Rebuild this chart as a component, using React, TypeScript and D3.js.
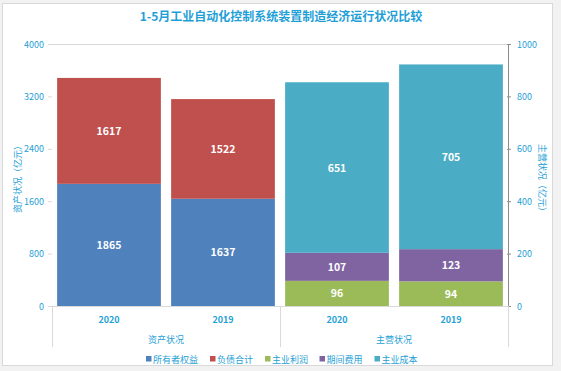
import React from 'react'
import * as d3 from 'd3'

// 图表数据
const groups = ['资产状况', '主营状况']
const years = ['2020', '2019']

const ownerEquity = [1865, 1637] // 所有者权益
const liabilities = [1617, 1522] // 负债合计
const mainProfit = [96, 94] // 主业利润
const periodCost = [107, 123] // 期间费用
const mainCost = [651, 705] // 主业成本

const leftTicks = [0, 800, 1600, 2400, 3200, 4000]
const rightTicks = [0, 200, 400, 600, 800, 1000]

const legendNames = ['所有者权益', '负债合计', '主业利润', '期间费用', '主业成本']
const colors = ['#4F81BD', '#C0504D', '#9BBB59', '#8064A2', '#4BACC6']

const W = 561
const H = 371
const margin = { top: 44, right: 53, bottom: 65, left: 52 }
const textColor = '#1f9fd6'
const font = '"Noto Sans CJK SC", "Noto Sans", sans-serif'

export default function App() {
  const bottom = H - margin.bottom
  const right = W - margin.right

  const keys = groups.flatMap(g => years.map(y => `${g}|${y}`))
  const x = d3.scaleBand<string>()
    .domain(keys)
    .range([margin.left, right])
    .paddingInner(0.09)
    .paddingOuter(0.045)

  const yLeft = d3.scaleLinear().domain([0, 4000]).range([bottom, margin.top])
  const yRight = d3.scaleLinear().domain([0, 1000]).range([bottom, margin.top])

  // 堆叠
  const leftStack = d3.stack<number>()
    .keys(['0', '1'])
    .value((i, k) => (k === '0' ? ownerEquity[i] : liabilities[i]))(years.map((_, i) => i))
  const rightStack = d3.stack<number>()
    .keys(['0', '1', '2'])
    .value((i, k) => (k === '0' ? mainProfit[i] : k === '1' ? periodCost[i] : mainCost[i]))(years.map((_, i) => i))

  const bars: { x: number; y0: number; y1: number; color: string; value: number }[] = []
  leftStack.forEach((layer, li) => {
    layer.forEach((d, i) => {
      bars.push({ x: x(`${groups[0]}|${years[i]}`)!, y0: yLeft(d[0]), y1: yLeft(d[1]), color: colors[li], value: d[1] - d[0] })
    })
  })
  rightStack.forEach((layer, li) => {
    layer.forEach((d, i) => {
      bars.push({ x: x(`${groups[1]}|${years[i]}`)!, y0: yRight(d[0]), y1: yRight(d[1]), color: colors[li + 2], value: d[1] - d[0] })
    })
  })

  const groupEdges = [margin.left, (margin.left + right) / 2, right]
  const legendX = [146, 210, 265, 319.5, 374.5]
  const midY = (margin.top + bottom) / 2 + 2

  return (
    <svg width={W} height={H} style={{ position: 'absolute', left: 0, top: 0, fontFamily: font }}>
      <rect x={0} y={0} width={W} height={H} fill="#f2f2f2" />
      <rect x={2.5} y={3.5} width={550} height={362} fill="#fff" stroke="#d9d9d9" />

      <text x={281} y={21} textAnchor="middle" fontSize={12} fontWeight="bold" fill={textColor}>
        1-5月工业自动化控制系统装置制造经济运行状况比较
      </text>

      {/* 网格线 */}
      <line x1={margin.left} x2={right} y1={yLeft(4000) + 0.5} y2={yLeft(4000) + 0.5} stroke="#d9d9d9" />

      {/* 柱子 */}
      {bars.map((b, i) => (
        <g key={i}>
          <rect x={b.x} y={b.y1} width={x.bandwidth()} height={b.y0 - b.y1} fill={b.color} />
          <text x={b.x + x.bandwidth() / 2} y={(b.y0 + b.y1) / 2 + 4} textAnchor="middle" fontSize={10.5} fontWeight="bold" fill="#fff">
            {b.value}
          </text>
        </g>
      ))}

      {/* 左轴 */}
      {leftTicks.map(t => (
        <g key={t}>
          <line x1={margin.left - 4} x2={margin.left} y1={yLeft(t) + 0.5} y2={yLeft(t) + 0.5} stroke="#d9d9d9" />
          <text x={margin.left - 8} y={yLeft(t) + 3.5} textAnchor="end" fontSize={9} fill={textColor}>{t}</text>
        </g>
      ))}
      <text transform={`translate(21,${midY}) rotate(-90)`} textAnchor="middle" fontSize={9} fill={textColor}>
        资产状况（亿元）
      </text>

      {/* 右轴 */}
      <line x1={right + 0.5} x2={right + 0.5} y1={margin.top} y2={bottom} stroke="#8c8c8c" />
      {rightTicks.map(t => (
        <g key={t}>
          <line x1={right - 1} x2={right + 3} y1={yRight(t) + 0.5} y2={yRight(t) + 0.5} stroke="#8c8c8c" />
          <text x={right + 9} y={yRight(t) + 3.5} fontSize={9} fill={textColor}>{t}</text>
        </g>
      ))}
      <text transform={`translate(539,${midY + 3}) rotate(90)`} textAnchor="middle" fontSize={9} fill={textColor}>
        主营状况（亿元）
      </text>

      {/* 分类轴 */}
      <line x1={margin.left} x2={right} y1={bottom + 0.5} y2={bottom + 0.5} stroke="#d9d9d9" />
      {groupEdges.map((gx, i) => (
        <line key={i} x1={gx + 0.5} x2={gx + 0.5} y1={bottom} y2={bottom + 41} stroke="#d9d9d9" />
      ))}
      {keys.map(k => (
        <text key={k} x={x(k)! + x.bandwidth() / 2} y={bottom + 17} textAnchor="middle" fontSize={9} fontWeight="bold" fill={textColor}>
          {k.split('|')[1]}
        </text>
      ))}
      {groups.map((g, i) => (
        <text key={g} x={(groupEdges[i] + groupEdges[i + 1]) / 2} y={bottom + 37} textAnchor="middle" fontSize={9} fill={textColor}>
          {g}
        </text>
      ))}

      {/* 图例 */}
      {legendNames.map((n, i) => (
        <g key={n} transform={`translate(${legendX[i]},359)`}>
          <rect x={0} y={-3} width={5.5} height={5.5} fill={colors[i]} />
          <text x={7} y={3.5} fontSize={9} fill={textColor}>{n}</text>
        </g>
      ))}
    </svg>
  )
}
